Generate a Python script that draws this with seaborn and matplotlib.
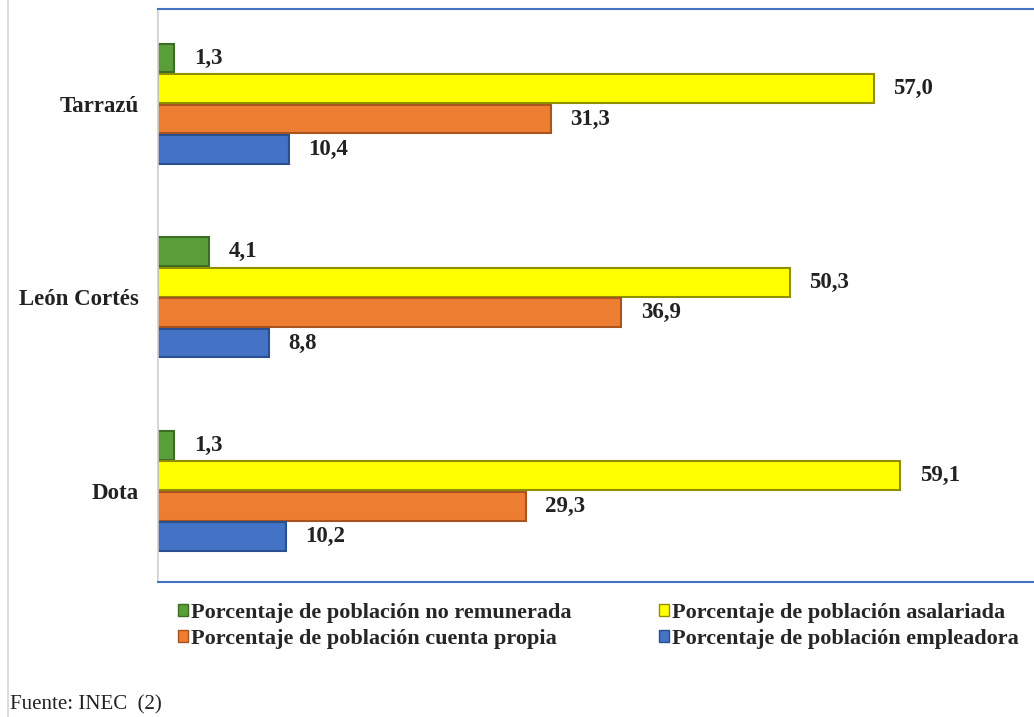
import numpy as np
import pandas as pd
import matplotlib
matplotlib.use("Agg")
import matplotlib.pyplot as plt
import seaborn as sns
from matplotlib.lines import Line2D
from matplotlib.patches import Patch

cantones = ["Tarrazú", "León Cortés", "Dota"]
series = ["Porcentaje de población no remunerada",
          "Porcentaje de población asalariada",
          "Porcentaje de población cuenta propia",
          "Porcentaje de población empleadora"]
no_remunerada = [1.3, 4.1, 1.3]
asalariada = [57.0, 50.3, 59.1]
cuenta_propia = [31.3, 36.9, 29.3]
empleadora = [10.4, 8.8, 10.2]
colors = ["#5a9e3a", "#ffff00", "#ed7d31", "#4472c4"]
edges = ["#3b6e22", "#8f8f00", "#a8541c", "#2a4f8f"]

rows = []
for s, vals in zip(series, [no_remunerada, asalariada, cuenta_propia, empleadora]):
    for c, v in zip(cantones, vals):
        rows.append({"canton": c, "serie": s, "valor": v})
df = pd.DataFrame(rows)

sns.set_style("white")
plt.rcParams["font.family"] = ["Liberation Serif", "DejaVu Serif"]

fig = plt.figure(figsize=(10.34, 7.17), dpi=100)
ax = fig.add_axes([158 / 1034, 1 - 582 / 717, 1 - 158 / 1034, (582 - 9) / 717])

sns.barplot(data=df, y="canton", x="valor", hue="serie", order=cantones,
            hue_order=series, palette=colors, saturation=1, orient="h",
            width=0.63, gap=0.06, legend=False, ax=ax)

# edge colors per series + value labels
for cont, ec in zip(ax.containers, edges):
    for bar in cont:
        bar.set_edgecolor(ec)
        bar.set_linewidth(1.5)
    ax.bar_label(cont, labels=[f"{b.get_width():.1f}".replace(".", ",") for b in cont],
                 padding=14, fontsize=16.5, fontweight="bold", color="#222222")

ax.set_xlim(0, (1034 - 158) / 12.56)
ax.set_ylim(2.47, -0.49)
ax.set_xlabel("")
ax.set_ylabel("")
ax.set_xticks([])
ax.tick_params(axis="y", length=0, pad=14)
for lab in ax.get_yticklabels():
    lab.set_fontsize(16.5)
    lab.set_fontweight("bold")
    lab.set_color("#222222")

for side in ["top", "bottom"]:
    ax.spines[side].set_color("#4472c4")
    ax.spines[side].set_linewidth(1.5)
ax.spines["left"].set_color("#d0d0d0")
ax.spines["left"].set_linewidth(1.2)
ax.spines["right"].set_visible(False)

# legend filled column-wise: order so rows read nr/asal, cp/emp
idx = [0, 2, 1, 3]
handles = [Patch(facecolor=colors[i], edgecolor=edges[i]) for i in idx]
fig.legend(handles, [series[i] for i in idx], ncol=2, frameon=False,
           loc="upper left", bbox_to_anchor=(158 / 1034, 1 - 583 / 717),
           handlelength=0.45, handleheight=0.45, handletextpad=0.15,
           columnspacing=3.9, labelspacing=0.25,
           prop={"size": 16, "weight": "bold"})

fig.text(10 / 1034, 1 - 705 / 717, "Fuente: INEC  (2)", fontsize=15,
         va="center", ha="left", color="#222222")
fig.add_artist(Line2D([8 / 1034, 8 / 1034], [0, 1], color="#d6d6d6", lw=1.2))

fig.savefig("out.png", dpi=100)
